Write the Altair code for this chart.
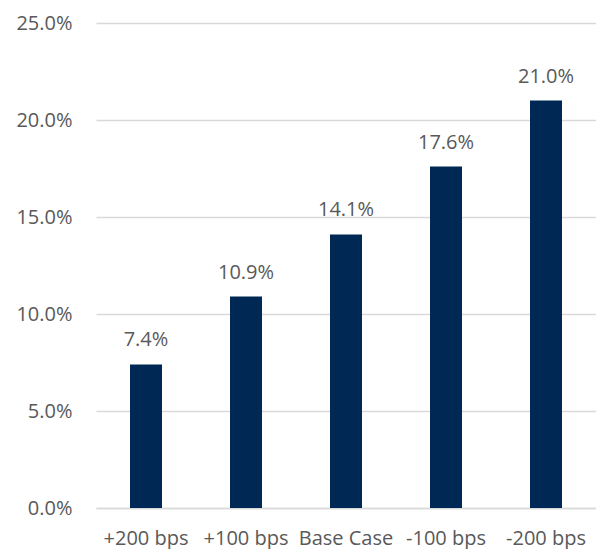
import altair as alt
import pandas as pd

# Scenario returns under interest-rate shocks
scenarios = ["+200 bps", "+100 bps", "Base Case", "-100 bps", "-200 bps"]
returns = [7.4, 10.9, 14.1, 17.6, 21.0]

df = pd.DataFrame({
    "scenario": scenarios,
    "value": [v / 100 for v in returns],
    "label": [f"{v:.1f}%" for v in returns],
})

FONT = "Open Sans"
GRAY = "#595959"
NAVY = "#002855"

x = alt.X(
    "scenario:N",
    sort=scenarios,
    title=None,
    scale=alt.Scale(paddingInner=0.68, paddingOuter=0.34),
    axis=alt.Axis(
        labelAngle=0,
        labelFont=FONT,
        labelFontSize=20,
        labelColor=GRAY,
        labelPadding=20,
        ticks=False,
        domainColor="#d9d9d9",
        domainWidth=1.3,
        grid=False,
    ),
)

y = alt.Y(
    "value:Q",
    title=None,
    scale=alt.Scale(domain=[0, 0.25], nice=False),
    axis=alt.Axis(
        format=".1%",
        values=[0, 0.05, 0.10, 0.15, 0.20, 0.25],
        labelFont=FONT,
        labelFontSize=20,
        labelColor=GRAY,
        labelPadding=24,
        ticks=False,
        domain=False,
        gridColor="#d9d9d9",
        gridWidth=1.3,
    ),
)

base = alt.Chart(df).encode(x=x, y=y)

bars = base.mark_bar(color=NAVY, size=32)

labels = base.mark_text(
    font=FONT,
    fontSize=20,
    color=GRAY,
    baseline="bottom",
    dy=-14,
).encode(text="label:N")

chart = (
    alt.layer(bars, labels)
    .properties(
        width=500,
        height=485,
        background="white",
        autosize=alt.AutoSizeParams(type="none"),
        padding={"left": 96, "top": 23, "right": 0, "bottom": 41},
    )
    .configure_view(stroke=None, strokeWidth=0)
)

chart.save("out.html", embed_options={"renderer": "svg", "actions": False})
